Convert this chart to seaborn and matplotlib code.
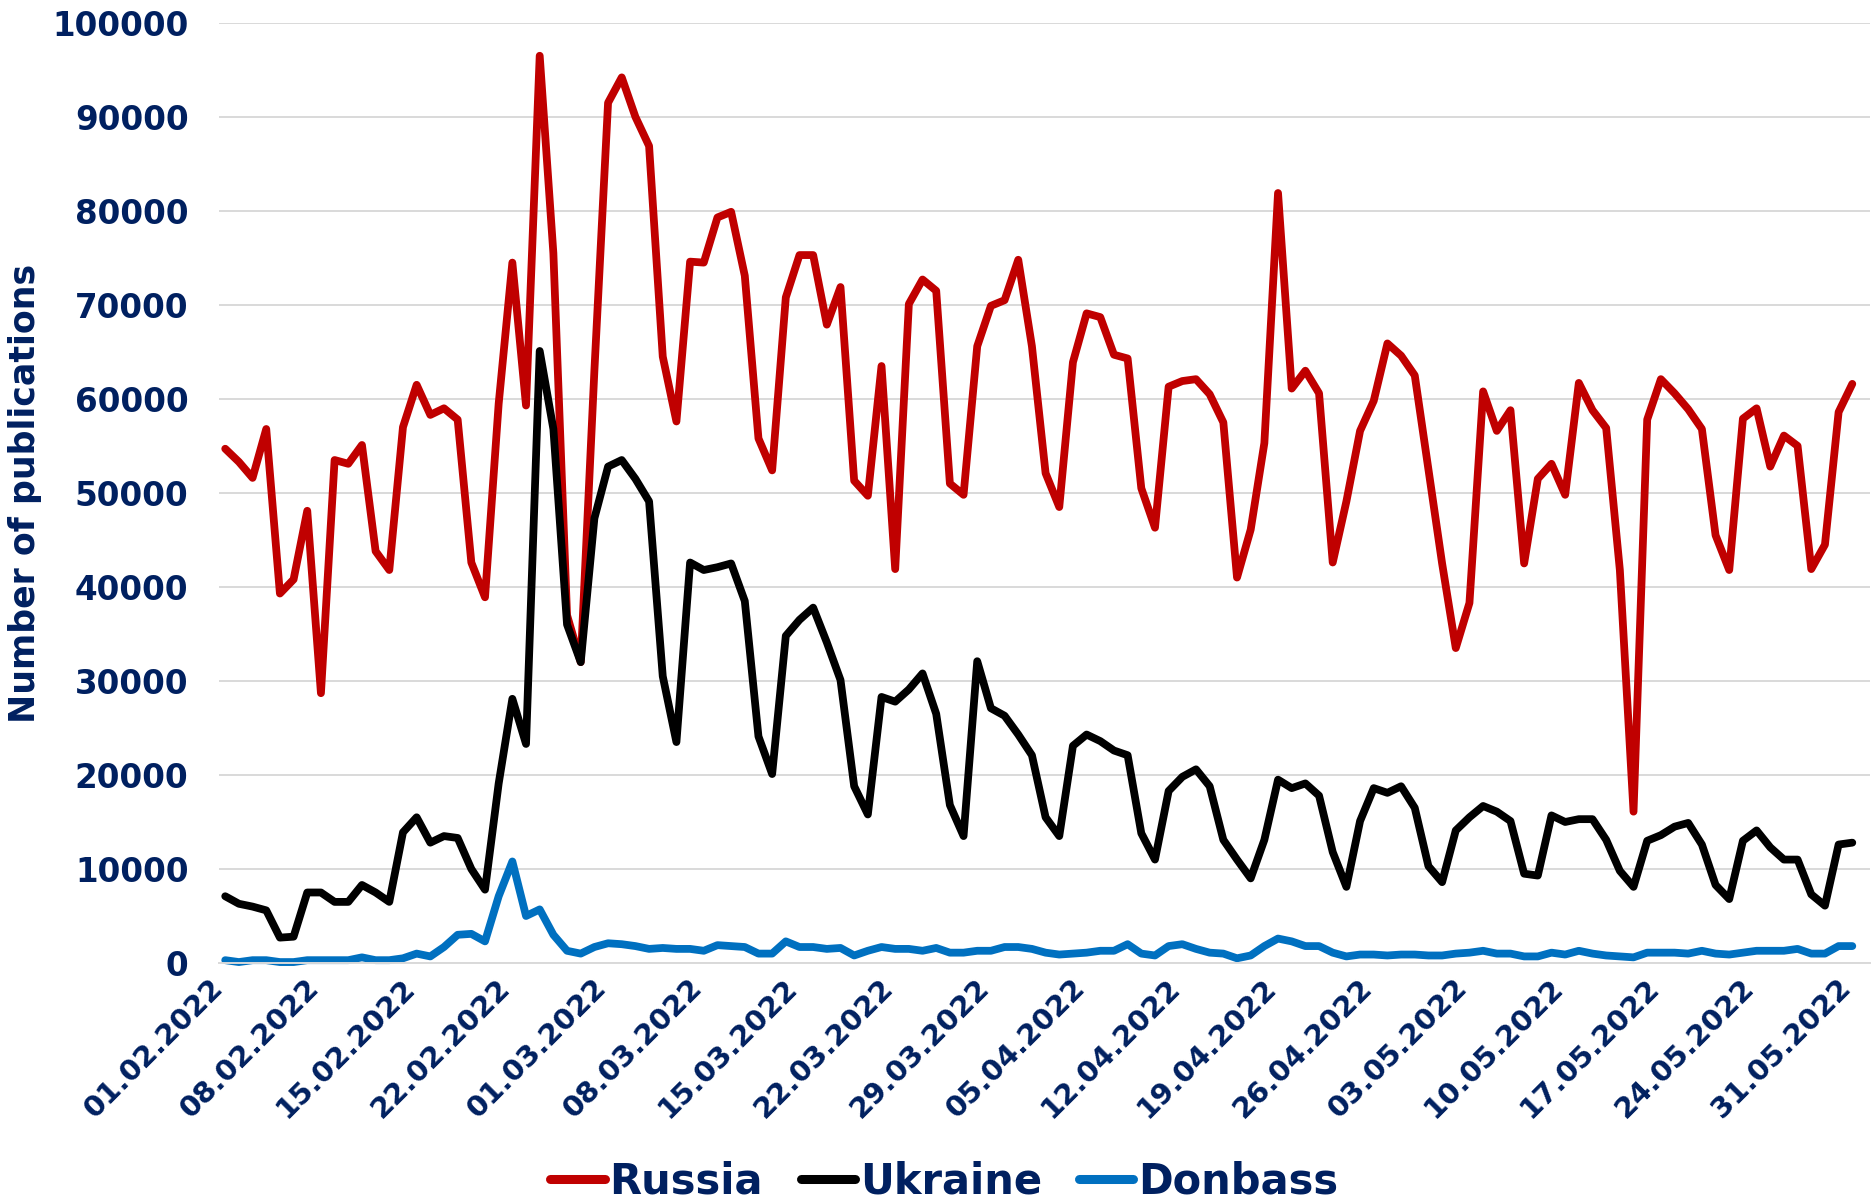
import numpy as np
import pandas as pd
import matplotlib
matplotlib.use("Agg")
import matplotlib.pyplot as plt
import seaborn as sns
from matplotlib.lines import Line2D

# style first, fonts after (set_style resets font.family)
sns.set_style("white")
plt.rcParams.update({
    'font.family': 'DejaVu Sans',
    'font.weight': 'bold',
    'axes.unicode_minus': False,
})

# daily counts, 01.02.2022 - 31.05.2022
dates = pd.date_range('2022-02-01', '2022-05-31', freq='D')

russia = [54700, 53300, 51600, 56800, 39300, 40800, 48100, 28700, 53500, 53100,
          55100, 43800, 41800, 57000, 61500, 58300, 59000, 57800, 42600, 38900,
          59500, 74500, 59300, 96500, 75500, 37000, 32000, 63000, 91500, 94200,
          90000, 86900, 64500, 57600, 74600, 74500, 79300, 79900, 73100, 55800,
          52400, 70800, 75300, 75300, 67900, 71900, 51300, 49700, 63500, 41900,
          70100, 72700, 71500, 51000, 49800, 65600, 69900, 70500, 74800, 65600,
          52100, 48500, 63900, 69100, 68700, 64700, 64300, 50500, 46300, 61300,
          61900, 62100, 60500, 57500, 41000, 46100, 55300, 81900, 61100, 63000,
          60600, 42600, 49100, 56600, 59800, 65900, 64600, 62500, 52500, 42500,
          33500, 38300, 60800, 56600, 58800, 42500, 51500, 53100, 49800, 61700,
          58800, 56900, 41800, 16100, 57800, 62100, 60600, 58900, 56800, 45500,
          41800, 57900, 59000, 52800, 56100, 55000, 41900, 44500, 58600, 61600]

ukraine = [7100, 6300, 6000, 5600, 2700, 2800, 7500, 7500, 6500, 6500,
           8300, 7500, 6500, 13900, 15500, 12800, 13500, 13300, 10000, 7800,
           19100, 28100, 23300, 65100, 56800, 36000, 32000, 47300, 52800, 53500,
           51500, 49100, 30500, 23500, 42600, 41800, 42100, 42500, 38500, 24100,
           20100, 34800, 36500, 37800, 34100, 30100, 18800, 15800, 28300, 27800,
           29100, 30800, 26500, 16800, 13500, 32100, 27100, 26300, 24300, 22100,
           15500, 13500, 23100, 24300, 23600, 22600, 22100, 13800, 11000, 18300,
           19800, 20600, 18800, 13100, 11000, 9000, 13100, 19500, 18600, 19100,
           17800, 11800, 8100, 15100, 18600, 18100, 18800, 16500, 10300, 8600,
           14100, 15500, 16700, 16100, 15100, 9500, 9300, 15700, 15000, 15300,
           15300, 13100, 9800, 8100, 13000, 13600, 14500, 14900, 12600, 8300,
           6800, 13000, 14100, 12300, 11000, 11000, 7300, 6100, 12600, 12800]

donbass = [300, 100, 300, 300, 100, 100, 300, 300, 300, 300,
           600, 300, 300, 500, 1000, 700, 1700, 3000, 3100, 2300,
           7100, 10800, 5000, 5700, 3000, 1300, 1000, 1700, 2100, 2000,
           1800, 1500, 1600, 1500, 1500, 1300, 1900, 1800, 1700, 1000,
           1000, 2300, 1700, 1700, 1500, 1600, 800, 1300, 1700, 1500,
           1500, 1300, 1600, 1100, 1100, 1300, 1300, 1700, 1700, 1500,
           1100, 900, 1000, 1100, 1300, 1300, 2000, 1000, 800, 1800,
           2000, 1500, 1100, 1000, 500, 800, 1800, 2600, 2300, 1800,
           1800, 1100, 700, 900, 900, 800, 900, 900, 800, 800,
           1000, 1100, 1300, 1000, 1000, 700, 700, 1100, 900, 1300,
           1000, 800, 700, 600, 1100, 1100, 1100, 1000, 1300, 1000,
           900, 1100, 1300, 1300, 1300, 1500, 1000, 1000, 1800, 1800]

series_names = ['Russia', 'Ukraine', 'Donbass']
colors = {'Russia': '#C00000', 'Ukraine': '#000000', 'Donbass': '#0070C0'}
yticks = list(range(0, 100001, 10000))

NAVY = '#002060'
GRID = '#D9D9D9'

df = pd.DataFrame({'day': np.arange(len(dates)), 'Russia': russia,
                   'Ukraine': ukraine, 'Donbass': donbass})
long_df = df.melt(id_vars='day', var_name='series', value_name='count')

fig = plt.figure(figsize=(18.74, 12.03), dpi=100)
ax = fig.add_axes([0.1169, 0.1995, 0.881, 0.7815])

sns.lineplot(data=long_df, x='day', y='count', hue='series',
             hue_order=series_names, palette=colors, linewidth=5.6,
             legend=False, ax=ax)
for ln in ax.lines:
    ln.set_solid_joinstyle('round')
    ln.set_solid_capstyle('round')
    ln.set_clip_on(False)

# axes / grid (Excel-like: ticks sit half a day before the points)
ax.set_xlim(-0.45, 120.3)
ax.set_ylim(0, 100000)
ax.set_yticks(yticks)
ax.set_yticklabels([str(v) for v in yticks])
ax.grid(axis='y', color=GRID, linewidth=1.4)
ax.set_axisbelow(True)
for side in ['top', 'right', 'left']:
    ax.spines[side].set_visible(False)
ax.spines['bottom'].set_color(GRID)
ax.spines['bottom'].set_linewidth(1.4)

tick_pos = list(range(0, len(dates), 7))
ax.set_xticks([i - 0.45 for i in tick_pos])
ax.set_xticklabels([dates[i].strftime('%d.%m.%Y') for i in tick_pos],
                   rotation=45, ha='right', va='center', rotation_mode='anchor')
ax.tick_params(axis='x', direction='out', length=6.5, width=1.4, color=GRID,
               labelsize=21, labelcolor=NAVY, pad=8)
ax.tick_params(axis='y', length=0, pad=22, labelsize=23.5, labelcolor=NAVY)
ax.set_xlabel('')
ax.set_ylabel('')

fig.text(0.0135, 0.59, 'Number of publications', rotation=90,
         ha='center', va='center', fontsize=25, fontweight='bold', color=NAVY)

handles = [Line2D([0], [0], color=colors[n], linewidth=6.5, solid_capstyle='round')
           for n in series_names]
fig.legend(handles, series_names, loc='center', bbox_to_anchor=(0.504, 0.018),
           ncol=3, frameon=False, fontsize=30, labelcolor=NAVY,
           handlelength=1.3, handletextpad=0.12, columnspacing=0.9,
           prop={'weight': 'bold', 'size': 30})

fig.savefig('out.png', dpi=100)
